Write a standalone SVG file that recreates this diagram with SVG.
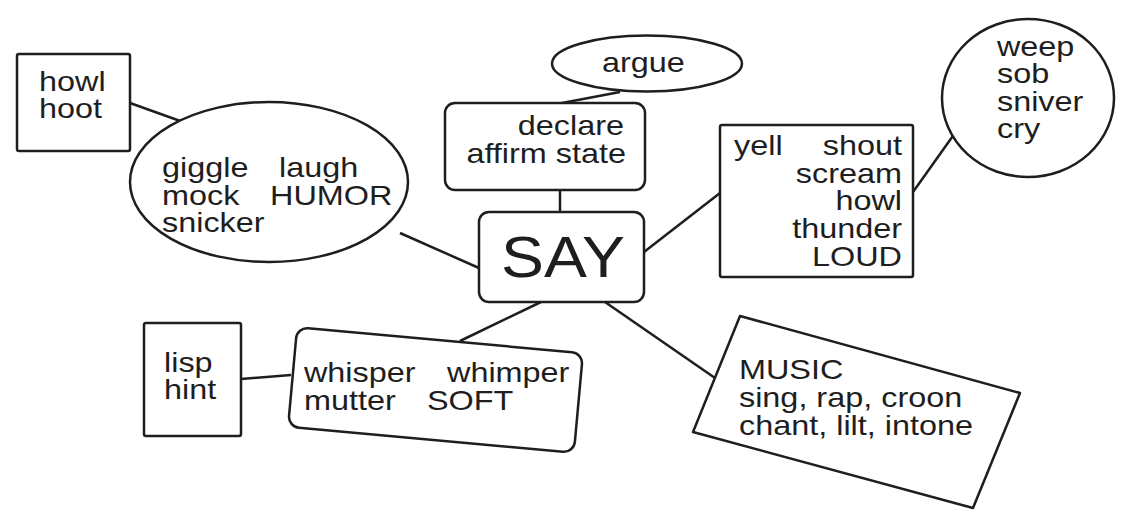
<svg xmlns="http://www.w3.org/2000/svg" width="1130" height="512" viewBox="0 0 1130 512">
<style>
.s{fill:#fff;stroke:#1e1e1e;stroke-width:2.5}
.c line{stroke:#1e1e1e;stroke-width:2.5}
text{font-family:"Liberation Sans",Arial,sans-serif;font-size:27px;fill:#1e1e1e}
.e{text-anchor:end}
</style>
<rect width="1130" height="512" fill="#fff"/>
<g class="c" id="connectors">
<line x1="130" y1="103" x2="183" y2="122"/>
<line x1="400" y1="233" x2="479" y2="268"/>
<line x1="620" y1="92" x2="562" y2="103"/>
<line x1="560" y1="190" x2="560" y2="212"/>
<line x1="644" y1="252" x2="720" y2="193"/>
<line x1="913" y1="192" x2="955" y2="133"/>
<line x1="541" y1="302" x2="460" y2="341"/>
<line x1="605" y1="302" x2="715" y2="378"/>
<line x1="241" y1="379" x2="291" y2="375"/>
</g>
<g id="howl">
<rect class="s" x="17" y="54" width="113" height="97" rx="2"/>
<text transform="scale(1.2,1)"><tspan x="32.5" y="91">howl</tspan><tspan x="32.5" y="118.5">hoot</tspan></text>
</g>
<g id="humor">
<ellipse class="s" cx="269" cy="182" rx="139" ry="80"/>
<text transform="scale(1.2,1)"><tspan x="135" y="177">giggle</tspan><tspan x="232.5" y="177">laugh</tspan><tspan x="135" y="205">mock</tspan><tspan x="225" y="205">HUMOR</tspan><tspan x="135" y="232">snicker</tspan></text>
</g>
<g id="argue">
<ellipse class="s" cx="647" cy="63.5" rx="95" ry="28"/>
<text transform="scale(1.2,1)" x="501.7" y="72">argue</text>
</g>
<g id="declare">
<rect class="s" x="445" y="103" width="200" height="87" rx="10"/>
<text class="e" transform="scale(1.2,1)"><tspan x="520" y="135.5">declare</tspan><tspan x="521.7" y="163">affirm state</tspan></text>
</g>
<g id="say">
<rect class="s" x="479" y="212" width="165" height="90" rx="10"/>
<text transform="scale(1.11,1)" x="507.2" y="277" style="font-size:58px;text-anchor:middle">SAY</text>
</g>
<g id="loud">
<rect class="s" x="720" y="125" width="193" height="152" rx="2"/>
<text transform="scale(1.2,1)"><tspan x="611.7" y="155">yell</tspan><tspan class="e" x="751.7" y="155">shout</tspan><tspan class="e" x="751.7" y="183">scream</tspan><tspan class="e" x="751.7" y="210">howl</tspan><tspan class="e" x="751.7" y="238">thunder</tspan><tspan class="e" x="751.7" y="266">LOUD</tspan></text>
</g>
<g id="weep">
<ellipse class="s" cx="1028" cy="98" rx="86" ry="79"/>
<text transform="scale(1.2,1)"><tspan x="830.8" y="56">weep</tspan><tspan x="830.8" y="83">sob</tspan><tspan x="830.8" y="111">sniver</tspan><tspan x="830.8" y="138">cry</tspan></text>
</g>
<g id="lisp">
<rect class="s" x="144" y="323" width="97" height="113" rx="2"/>
<text transform="scale(1.2,1)"><tspan x="136.7" y="372">lisp</tspan><tspan x="136.7" y="399">hint</tspan></text>
</g>
<g id="soft">
<rect class="s" x="-143.5" y="-50" width="287" height="100" rx="11" transform="translate(435.5,390) rotate(5.2)"/>
<text transform="scale(1.2,1)"><tspan x="253.3" y="382">whisper</tspan><tspan x="372.5" y="382">whimper</tspan><tspan x="253.3" y="410">mutter</tspan><tspan x="355.8" y="410">SOFT</tspan></text>
</g>
<g id="music">
<polygon class="s" points="740,316 1020,393 973,508 693,432" stroke-linejoin="round"/>
<text transform="scale(1.2,1)"><tspan x="615.8" y="379">MUSIC</tspan><tspan x="615.8" y="407">sing, rap, croon</tspan><tspan x="615.8" y="435">chant, lilt, intone</tspan></text>
</g>
</svg>
